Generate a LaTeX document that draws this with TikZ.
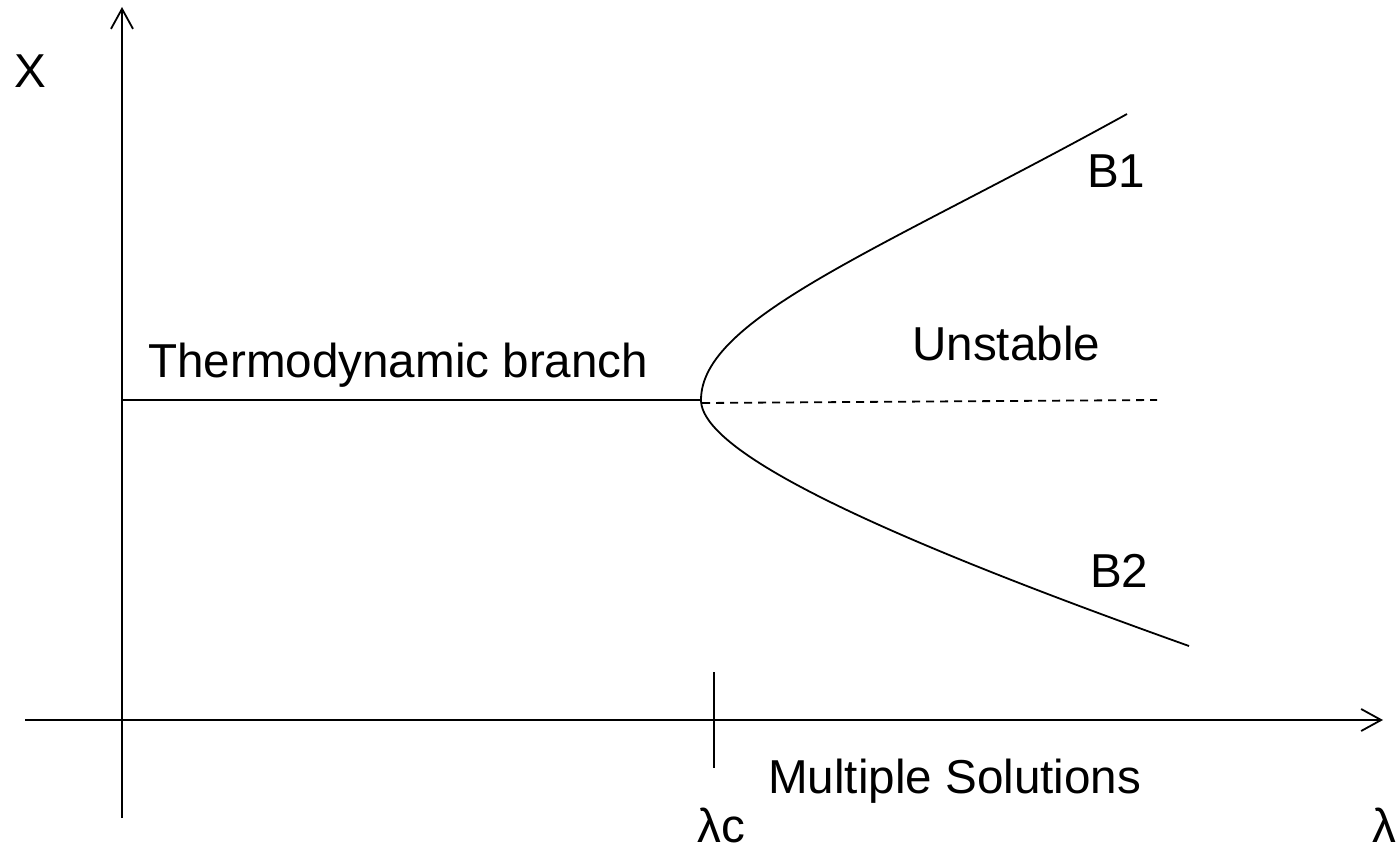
\documentclass[tikz,border=0pt]{standalone}
\usepackage{fontspec}
\setmainfont{Liberation Sans}
\usetikzlibrary{arrows.meta}
\begin{document}
\begin{tikzpicture}[x=1pt,y=-1pt,
  axis/.style={line width=1.8pt,-{Straight Barb[length=20pt,width=22pt,line width=1.8pt]}},
  curve/.style={line width=1.8pt},
  unstable/.style={line width=1.8pt,dash pattern=on 8pt off 6pt},
  lbl/.style={anchor=base west,inner sep=0pt,font=\fontsize{47.6}{56}\selectfont}]
  \useasboundingbox (0,0) rectangle (1399,845);

  % axes
  \coordinate (yb) at (122,818);
  \coordinate (yt) at (122,7);
  \coordinate (xl) at (25,720);
  \coordinate (xr) at (1383,720);
  \draw[axis] (yb) -- (yt);
  \draw[axis] (xl) -- (xr);

  % critical value tick
  \coordinate (tt) at (714,672);
  \coordinate (tb) at (714,768);
  \draw[curve] (tt) -- (tb);

  % branches
  \coordinate (t0) at (122,400);
  \coordinate (bp) at (701,400);
  \coordinate (b1) at (1127,114);
  \coordinate (b2) at (1189,646);
  \coordinate (ue) at (1157,400);
  \draw[curve] (t0) -- (bp);
  \draw[unstable] (bp) ++(1,3) -- (ue);
  \draw[curve] (bp) .. controls (701,318) and (881,250) .. (b1);
  \draw[curve] (bp) .. controls (701,458) and (920,550) .. (b2);

  % labels
  \node[lbl] (lx) at (14,88) {X};
  \node[lbl] (lthermo) at (148,377) {Thermodynamic branch};
  \node[lbl] (lunst) at (912,360) {Unstable};
  \node[lbl] (lb1) at (1087,187) {B1};
  \node[lbl] (lb2) at (1090,587) {B2};
  \node[lbl] (lmult) at (768,793) {Multiple Solutions};
  \node[lbl] (llc) at (697,842) {λc};
  \node[lbl] (ll) at (1372,842) {λ};
\end{tikzpicture}
\end{document}
